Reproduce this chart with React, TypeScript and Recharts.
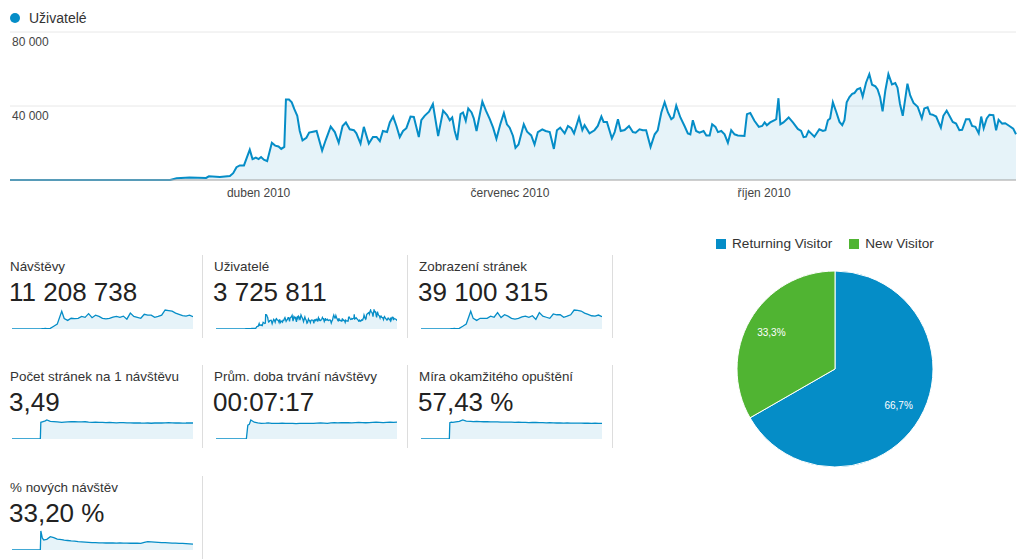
// GA-style audience overview: users over time, metric sparklines, visitor type pie

import React from "react"
import { AreaChart, Area, XAxis, YAxis, CartesianGrid, PieChart, Pie, Cell } from "recharts"

// daily users (day of year 2010)
const userDays = [
  0, 58, 60.3, 65, 71, 72, 76, 79.6, 80.8, 82, 83.2, 84.7, 86.8, 87.8, 89, 90, 90.9, 91.9, 93.1, 94.8,
  96, 97.2, 98.2, 99.3, 99.9, 101, 102, 102.9, 104, 104.9, 105.9, 107.3, 108.3, 109.7, 111, 113, 114.3,
  116.1, 117.6, 119, 120.4, 121.6, 123, 124.5, 125.4, 126.9, 128.1, 129.9, 131.4, 132.7, 133.9, 135,
  136.5, 137.5, 138.7, 139.9, 141.1, 142.3, 143.5, 145, 146.2, 148, 148.9, 150.1, 151.7, 153.1, 155,
  156.8, 158.2, 159.2, 160.1, 161, 161.9, 163.1, 164, 165, 165.9, 167.1, 167.9, 168.9, 171, 172.3,
  173.7, 174.9, 176.1, 177.5, 178.8, 179.9, 180.9, 182.1, 183, 184.1, 186, 187.2, 188.7, 189.9, 191.1,
  192.7, 193.9, 195.4, 196.9, 198, 199.2, 200.8, 202, 203.2, 204.2, 206, 207.2, 208, 209.8, 211.6,
  212.8, 214.1, 214.9, 216.1, 217.9, 218.9, 220.1, 221.1, 222.5, 224.1, 225.5, 226.5, 227.9, 229.1,
  230.3, 231.9, 233.4, 234.5, 235.8, 237, 238.2, 239.4, 240.2, 241.2, 242.7, 244.2, 245.4, 246.3,
  247.2, 248.4, 249.6, 251.1, 252.1, 253.3, 254.2, 255.4, 256.3, 257.5, 258.7, 259.9, 261.1, 262.3,
  263.5, 265.9, 266.8, 268, 269.5, 271.1, 272.3, 273.2, 274, 275.2, 276.8, 277.4, 278.2, 278.9, 280,
  281.9, 283.5, 285.2, 286.4, 287.3, 288.2, 289.1, 290, 291.2, 293, 294.3, 295.2, 296.1, 296.9, 297.9,
  299.1, 300.3, 301.3, 302.1, 302.9, 303.9, 304.9, 305.7, 306.7, 307.8, 308.7, 309.9, 311.1, 312.1,
  313.3, 314.1, 315, 315.9, 316.9, 318, 319.3, 320.5, 321.3, 322.2, 323.2, 324.9, 325.9, 327.1, 328.6,
  330.1, 331, 332.2, 333.1, 334, 335.3, 337, 337.9, 339.1, 340.1, 341.3, 342.5, 343.7, 344.7, 346.1,
  347.3, 348.3, 349.5, 350.7, 351.6, 352.5, 353.6, 354.6, 356, 357, 357.9, 359.2, 360.3, 361.8, 363.2,
  364.2,
]
const users = [
  0, 0, 900, 1300, 1100, 2000, 1600, 2200, 3700, 6900, 7900, 7900, 16400, 11300, 12100, 11300, 12400,
  11000, 10200, 20100, 18600, 18100, 16800, 17900, 43500, 43500, 42000, 38400, 34700, 26500, 21400,
  22800, 25600, 26100, 26500, 15900, 21600, 28900, 25900, 20100, 29200, 31100, 27400, 26900, 25200,
  19700, 28700, 19700, 23300, 23300, 21000, 26500, 25900, 31100, 34300, 29200, 23200, 26500, 28000,
  34300, 34100, 23200, 32300, 34700, 36900, 41100, 23800, 37500, 35100, 32300, 33800, 26500, 21600,
  35600, 36500, 32000, 38700, 36500, 33300, 26500, 42400, 37500, 32900, 28300, 22300, 30100, 36200,
  30100, 28300, 23800, 17400, 19200, 30100, 26100, 24100, 19200, 25900, 27400, 26500, 25900, 16800,
  26900, 28300, 25200, 29200, 28000, 25200, 33800, 27000, 29600, 25200, 26900, 29200, 34300, 31400,
  31400, 22500, 25900, 32900, 26500, 27000, 29200, 25900, 25600, 27400, 26900, 26900, 17900, 24700,
  26900, 36500, 42000, 36500, 32900, 33800, 40200, 33800, 29200, 25200, 24700, 32300, 26500, 25600,
  26500, 24100, 24100, 30100, 28700, 25900, 26500, 24700, 20100, 26900, 24700, 24100, 23800, 35600,
  36200, 32000, 28700, 29200, 31100, 29600, 31100, 32300, 32900, 44200, 30100, 31100, 33800, 31000,
  27600, 26500, 23200, 23400, 26500, 25200, 23400, 27400, 26500, 26900, 32300, 33300, 42000, 36900,
  31400, 29600, 32300, 42000, 44800, 46600, 47000, 49000, 49700, 45100, 52600, 57200, 51500, 50600,
  49000, 44800, 37100, 48400, 57200, 51700, 52400, 49900, 41100, 34700, 52100, 45700, 41700, 39600,
  33300, 38700, 39300, 35600, 35300, 34300, 28300, 34700, 37500, 34700, 31400, 30500, 26900, 27100,
  32900, 32900, 29200, 28700, 25200, 34300, 28000, 33300, 35300, 35100, 26900, 32500, 30500, 30700,
  29200, 27800, 24700,
]
const monthTicks = [90, 181, 273]
const monthLabels = ["duben 2010", "červenec 2010", "říjen 2010"]
const userTicks = [0, 40000, 80000]
const userTickLabels = ["", "40 000", "80 000"]

// sparkline samples (day of year)
const sparkDays = [
  0, 57, 58, 61, 64, 67, 70, 77, 84, 91, 100, 105, 112, 119, 126, 133, 140, 147, 154, 161, 168, 175,
  182, 189, 196, 203, 210, 217, 224, 231, 238, 245, 252, 259, 266, 273, 280, 287, 294, 301, 308, 315,
  322, 329, 336, 343, 350, 357, 364,
]
const visits = [
  0, 0, 400, 900, 1500, 1600, 1500, 2200, 9000, 16000, 58000, 34000, 28000, 35000, 34000, 35000, 41000,
  38000, 50000, 37000, 45000, 41000, 35000, 33000, 35000, 39000, 41000, 38000, 42000, 32000, 52000,
  41000, 38000, 35000, 48000, 45000, 45000, 38000, 41000, 45000, 62000, 60000, 58000, 52000, 48000,
  44000, 42000, 45000, 40000,
]
const pageviews = [
  0, 0, 1500, 3200, 5200, 5600, 5200, 7700, 31000, 56000, 200000, 120000, 97000, 121000, 121000, 121000,
  145000, 133000, 185000, 129000, 161000, 145000, 121000, 113000, 121000, 137000, 145000, 133000, 150000,
  109000, 185000, 145000, 133000, 121000, 170000, 161000, 161000, 133000, 145000, 161000, 215000, 210000,
  203000, 180000, 165000, 150000, 145000, 158000, 140000,
]
const pagesPerVisit = [
  0, 0, 3.6, 3.7, 3.8, 3.9, 4.1, 3.8, 3.75, 3.7, 3.6, 3.65, 3.7, 3.72, 3.75, 3.7, 3.68, 3.72, 3.65, 3.6,
  3.62, 3.6, 3.58, 3.55, 3.58, 3.55, 3.5, 3.52, 3.55, 3.5, 3.48, 3.45, 3.5, 3.45, 3.42, 3.45, 3.4, 3.45,
  3.48, 3.45, 3.5, 3.55, 3.5, 3.45, 3.48, 3.42, 3.45, 3.5, 3.45,
]
const avgDuration = [
  0, 0, 0, 0, 380, 400, 520, 460, 440, 430, 435, 440, 430, 425, 430, 435, 430, 430, 425, 420, 425, 430,
  425, 430, 430, 435, 440, 435, 430, 440, 445, 440, 445, 450, 445, 440, 450, 455, 450, 445, 450, 455,
  460, 455, 450, 455, 460, 455, 460,
]
const bounceRate = [
  0, 0, 60, 62, 61, 62, 63, 65, 70, 66, 65, 64, 64.5, 64, 63.5, 63.7, 63, 62.8, 63, 62.5, 62, 62.3, 62,
  61.5, 61.8, 61.5, 61, 60.5, 61, 60.8, 60.5, 60, 59.5, 60, 59.5, 59, 59.3, 58.8, 59, 58.5, 58.8, 58.3,
  58.5, 58, 58.3, 57.8, 58, 57.5, 57.8,
]
const newVisits = [
  0, 0, 80, 50, 42, 44, 45, 56, 52, 46, 44, 42, 40, 38, 37, 35, 34, 33, 32, 31, 31, 30, 30, 29.5, 30,
  29.5, 29, 29.5, 29, 29, 28.5, 29, 28.5, 28, 32, 35, 34, 33, 32, 31, 31, 30, 29, 29, 28, 28, 27, 26, 25,
]

const metricTitles = [
  "Návštěvy", "Uživatelé", "Zobrazení stránek", "Počet stránek na 1 návštěvu",
  "Prům. doba trvání návštěvy", "Míra okamžitého opuštění", "% nových návštěv",
]
const metricValues = ["11 208 738", "3 725 811", "39 100 315", "3,49", "00:07:17", "57,43 %", "33,20 %"]

const visitorTypes = ["Returning Visitor", "New Visitor"]
const visitorShares = [66.7, 33.3]
const visitorColors = ["#058dc7", "#50b432"]

const FONT = '"Liberation Sans", Arial, Helvetica, sans-serif'
const BLUE = "#058dc7"
const colX = [10, 214, 419]
const rowY = [260, 370, 481]
const sepX = [202, 407, 612]

const userData = userDays.map((d, i) => ({ day: d, value: users[i] }))
const sparkSeries = [
  sparkDays.map((d, i) => ({ day: d, value: visits[i] })),
  userData,
  sparkDays.map((d, i) => ({ day: d, value: pageviews[i] })),
  sparkDays.map((d, i) => ({ day: d, value: pagesPerVisit[i] })),
  sparkDays.map((d, i) => ({ day: d, value: avgDuration[i] })),
  sparkDays.map((d, i) => ({ day: d, value: bounceRate[i] })),
  sparkDays.map((d, i) => ({ day: d, value: newVisits[i] })),
]
const pieData = visitorTypes.map((name, i) => ({ name, value: visitorShares[i] }))

function Sparkline({ data }: { data: { day: number; value: number }[] }) {
  return (
    <AreaChart width={181} height={20} data={data} margin={{ top: 1, right: 0, bottom: 0, left: 0 }}>
      <XAxis dataKey="day" type="number" domain={[0, 364]} hide />
      <YAxis type="number" domain={[0, "dataMax"]} hide />
      <Area
        type="linear"
        dataKey="value"
        stroke={BLUE}
        strokeWidth={1.3}
        fill={BLUE}
        fillOpacity={0.1}
        dot={false}
        activeDot={false}
        isAnimationActive={false}
      />
    </AreaChart>
  )
}

const RADIAN = Math.PI / 180
function renderPieLabel(props: any) {
  const { cx, cy, midAngle, outerRadius, index } = props
  const r = outerRadius * 0.75
  const x = cx + r * Math.cos(-midAngle * RADIAN)
  const y = cy + r * Math.sin(-midAngle * RADIAN)
  return (
    <text x={x} y={y} fill="#fff" fontSize={10} fontFamily={FONT} textAnchor="middle" dominantBaseline="central">
      {visitorShares[index].toFixed(1).replace(".", ",")}%
    </text>
  )
}

export default function App() {
  return (
    <div style={{ position: "absolute", left: 0, top: 0, width: 1024, height: 559, background: "#fff", fontFamily: FONT, overflow: "hidden" }}>
      {/* main chart legend */}
      <div style={{ position: "absolute", left: 10, top: 13, width: 10, height: 10, borderRadius: "50%", background: BLUE }} />
      <div style={{ position: "absolute", left: 29, top: 11, fontSize: 14, lineHeight: "14px", color: "#333" }}>Uživatelé</div>

      <div style={{ position: "absolute", left: 0, top: 0 }}>
        <AreaChart width={1024} height={200} data={userData} margin={{ top: 32, right: 8, bottom: 0, left: 9 }}>
          <CartesianGrid vertical={false} stroke="#e8e8e8" />
          <XAxis
            dataKey="day"
            type="number"
            domain={[0, 364]}
            ticks={monthTicks}
            interval={0}
            height={20}
            tickLine={false}
            axisLine={{ stroke: "#aaa" }}
            tick={(p: any) => (
              <text x={p.x} y={197} textAnchor="middle" fontSize={12} fontFamily={FONT} fill="#444">
                {monthLabels[monthTicks.indexOf(p.payload.value)]}
              </text>
            )}
          />
          <YAxis
            type="number"
            domain={[0, 80000]}
            ticks={userTicks}
            interval={0}
            width={1}
            axisLine={false}
            tickLine={false}
            tick={(p: any) => (
              <text x={12} y={p.y + 13.5} textAnchor="start" fontSize={12} fontFamily={FONT} fill="#444">
                {userTickLabels[userTicks.indexOf(p.payload.value)]}
              </text>
            )}
          />
          <Area
            type="linear"
            dataKey="value"
            stroke={BLUE}
            strokeWidth={2}
            fill={BLUE}
            fillOpacity={0.1}
            dot={false}
            activeDot={false}
            isAnimationActive={false}
          />
        </AreaChart>
      </div>

      {/* metric cards */}
      {metricTitles.map((title, i) => {
        const x = colX[i % 3]
        const y = rowY[Math.floor(i / 3)]
        return (
          <React.Fragment key={title}>
            <div style={{ position: "absolute", left: x, top: y, fontSize: 13.4, lineHeight: "13px", color: "#333", whiteSpace: "nowrap" }}>
              {title}
            </div>
            <div style={{ position: "absolute", left: x - 1, top: y + 19, fontSize: 26, lineHeight: "26px", color: "#222", whiteSpace: "nowrap" }}>
              {metricValues[i]}
            </div>
            <div style={{ position: "absolute", left: x + 2, top: y + 49 }}>
              <Sparkline data={sparkSeries[i]} />
            </div>
            <div style={{ position: "absolute", left: sepX[i % 3], top: y - 5, width: 1, height: 83, background: "#ddd" }} />
          </React.Fragment>
        )
      })}

      {/* visitor type pie */}
      <div style={{ position: "absolute", left: 716, top: 237, display: "flex", alignItems: "center", fontSize: 13.6, color: "#333" }}>
        {visitorTypes.map((name, i) => (
          <div key={name} style={{ display: "flex", alignItems: "center", marginRight: 17 }}>
            <div style={{ width: 10, height: 10, background: visitorColors[i], marginRight: 6 }} />
            <span style={{ lineHeight: "13px" }}>{name}</span>
          </div>
        ))}
      </div>
      <div style={{ position: "absolute", left: 685, top: 225 }}>
        <PieChart width={300} height={250}>
          <Pie
            data={pieData}
            dataKey="value"
            cx={145}
            cy={139}
            outerRadius={98}
            startAngle={90}
            endAngle={-270}
            stroke="#fff"
            strokeWidth={1}
            labelLine={false}
            label={renderPieLabel}
            isAnimationActive={false}
          >
            {pieData.map((d, i) => (
              <Cell key={d.name} fill={visitorColors[i]} />
            ))}
          </Pie>
        </PieChart>
      </div>
    </div>
  )
}
